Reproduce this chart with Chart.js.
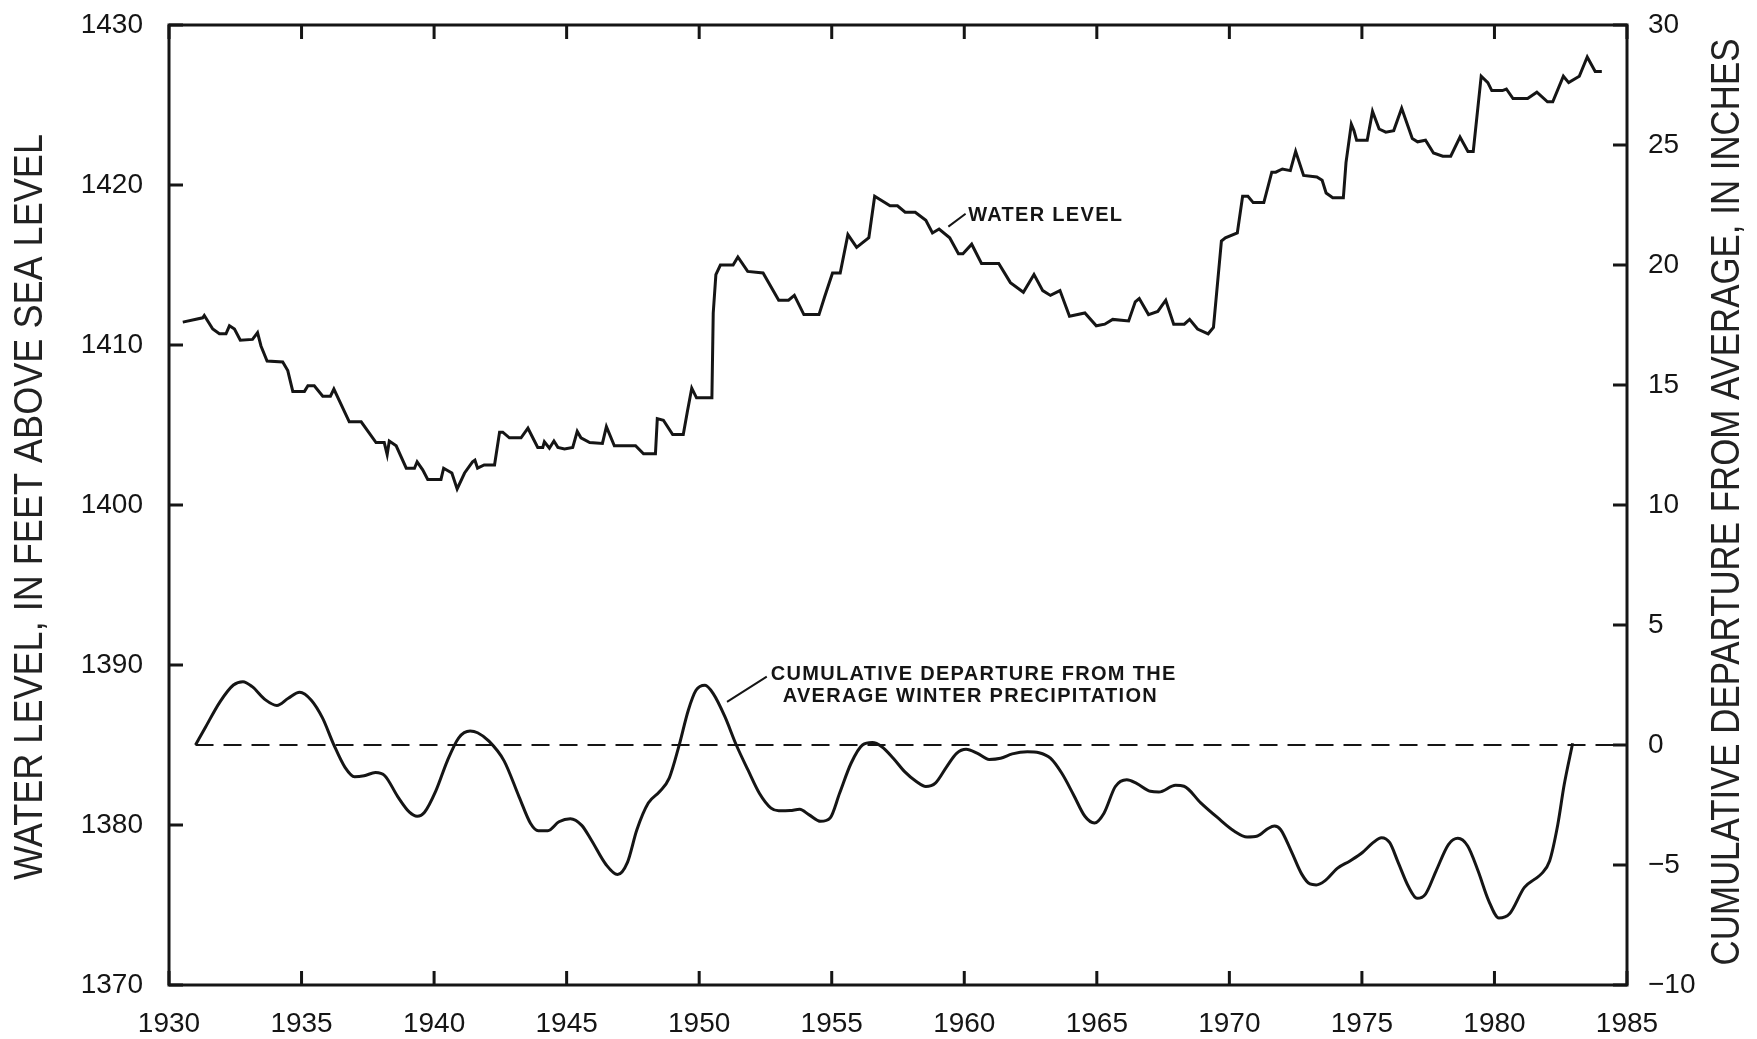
<!DOCTYPE html>
<html>
<head>
<meta charset="utf-8">
<script src="https://cdn.jsdelivr.net/npm/chart.js@4.4.1/dist/chart.umd.min.js"></script>
<style>
  html, body { margin: 0; padding: 0; background: #fff; }
  #wrap { width: 1757px; height: 1039px; }
</style>
</head>
<body>
<div id="wrap"><canvas id="chart" width="1757" height="1039"></canvas></div>
<script>
// water level, feet above sea level
const waterYears = [
  1930.52, 1931.27, 1931.33, 1931.65, 1931.90, 1932.15, 1932.28, 1932.47, 1932.69, 1933.15,
  1933.34, 1933.47, 1933.70, 1934.29, 1934.48, 1934.67, 1935.11, 1935.24, 1935.48, 1935.80,
  1936.09, 1936.22, 1936.80, 1937.25, 1937.81, 1938.12, 1938.23, 1938.31, 1938.57, 1938.95,
  1939.26, 1939.36, 1939.57, 1939.76, 1940.26, 1940.36, 1940.67, 1940.87, 1941.15, 1941.45,
  1941.54, 1941.64, 1941.89, 1942.28, 1942.47, 1942.59, 1942.84, 1943.28, 1943.54, 1943.91,
  1944.10, 1944.16, 1944.35, 1944.52, 1944.67, 1944.92, 1945.23, 1945.40, 1945.54, 1945.87,
  1946.35, 1946.50, 1946.80, 1947.60, 1947.90, 1948.35, 1948.42, 1948.65, 1949.00, 1949.40,
  1949.55, 1949.72, 1949.90, 1950.48, 1950.53, 1950.63, 1950.80, 1951.28, 1951.46, 1951.83,
  1952.41, 1953.00, 1953.37, 1953.59, 1953.95, 1954.52, 1954.73, 1955.03, 1955.32, 1955.61,
  1955.94, 1956.40, 1956.62, 1956.91, 1957.20, 1957.48, 1957.77, 1958.15, 1958.55, 1958.80,
  1959.05, 1959.45, 1959.78, 1959.95, 1960.28, 1960.65, 1961.30, 1961.74, 1962.23, 1962.63,
  1962.96, 1963.25, 1963.61, 1963.97, 1964.55, 1964.98, 1965.30, 1965.60, 1966.20, 1966.45,
  1966.60, 1966.95, 1967.30, 1967.60, 1967.90, 1968.30, 1968.50, 1968.80, 1969.20, 1969.40,
  1969.70, 1969.85, 1970.30, 1970.50, 1970.70, 1970.90, 1971.30, 1971.60, 1971.75, 1972.00,
  1972.30, 1972.50, 1972.80, 1973.30, 1973.50, 1973.65, 1973.90, 1974.30, 1974.40, 1974.60,
  1974.70, 1974.80, 1975.20, 1975.40, 1975.65, 1975.90, 1976.20, 1976.50, 1976.90, 1977.10,
  1977.40, 1977.70, 1978.05, 1978.35, 1978.70, 1979.00, 1979.20, 1979.50, 1979.75, 1979.90,
  1980.30, 1980.45, 1980.70, 1981.25, 1981.60, 1982.00, 1982.20, 1982.60, 1982.80, 1983.20,
  1983.50, 1983.80, 1984.05
];
const waterLevels = [
  1411.43, 1411.70, 1411.84, 1411.00, 1410.70, 1410.70, 1411.20, 1411.00, 1410.30, 1410.35,
  1410.77, 1409.94, 1409.00, 1408.94, 1408.40, 1407.10, 1407.10, 1407.45, 1407.45, 1406.80,
  1406.80, 1407.25, 1405.20, 1405.20, 1403.90, 1403.90, 1403.15, 1404.00, 1403.70, 1402.30,
  1402.30, 1402.70, 1402.20, 1401.60, 1401.60, 1402.30, 1402.00, 1401.00, 1402.00, 1402.70,
  1402.80, 1402.30, 1402.50, 1402.50, 1404.55, 1404.55, 1404.20, 1404.20, 1404.80, 1403.60,
  1403.60, 1403.95, 1403.55, 1404.00, 1403.60, 1403.50, 1403.60, 1404.60, 1404.20, 1403.90,
  1403.85, 1404.90, 1403.70, 1403.70, 1403.20, 1403.20, 1405.40, 1405.30, 1404.40, 1404.40,
  1405.80, 1407.30, 1406.70, 1406.70, 1412.00, 1414.40, 1415.00, 1415.00, 1415.50, 1414.60,
  1414.50, 1412.80, 1412.80, 1413.10, 1411.90, 1411.90, 1413.00, 1414.50, 1414.50, 1416.90,
  1416.10, 1416.70, 1419.30, 1419.00, 1418.70, 1418.70, 1418.30, 1418.30, 1417.80, 1417.00,
  1417.25, 1416.70, 1415.70, 1415.70, 1416.30, 1415.10, 1415.10, 1413.90, 1413.30, 1414.40,
  1413.40, 1413.10, 1413.40, 1411.80, 1412.00, 1411.20, 1411.30, 1411.60, 1411.50, 1412.70,
  1412.90, 1411.90, 1412.10, 1412.80, 1411.30, 1411.30, 1411.60, 1411.00, 1410.70, 1411.10,
  1416.50, 1416.70, 1417.00, 1419.30, 1419.30, 1418.90, 1418.90, 1420.80, 1420.80, 1421.00,
  1420.90, 1422.10, 1420.60, 1420.50, 1420.30, 1419.50, 1419.20, 1419.20, 1421.40, 1423.80,
  1423.40, 1422.80, 1422.80, 1424.60, 1423.50, 1423.30, 1423.40, 1424.80, 1422.90, 1422.70,
  1422.80, 1422.00, 1421.80, 1421.80, 1423.00, 1422.10, 1422.10, 1426.80, 1426.40, 1425.90,
  1425.90, 1426.00, 1425.40, 1425.40, 1425.80, 1425.20, 1425.20, 1426.80, 1426.40, 1426.80,
  1428.00, 1427.10, 1427.10
];

// cumulative departure from the average winter precipitation, inches
const precipYears = [
  1931.00, 1931.36, 1931.93, 1932.43, 1932.79, 1933.14, 1933.64, 1934.07, 1934.50, 1934.93,
  1935.36, 1935.79, 1936.21, 1936.64, 1937.00, 1937.36, 1937.79, 1938.14, 1938.64, 1939.07,
  1939.36, 1939.64, 1940.07, 1940.50, 1940.93, 1941.36, 1941.64, 1942.07, 1942.64, 1943.21,
  1943.64, 1943.93, 1944.29, 1944.71, 1945.14, 1945.57, 1945.93, 1946.49, 1946.92, 1947.29,
  1947.65, 1948.08, 1948.51, 1948.87, 1949.23, 1949.59, 1949.88, 1950.22, 1950.53, 1950.97,
  1951.40, 1951.84, 1952.27, 1952.71, 1953.00, 1953.43, 1953.79, 1954.15, 1954.58, 1954.94,
  1955.30, 1955.73, 1956.16, 1956.53, 1956.89, 1957.32, 1957.75, 1958.19, 1958.55, 1958.91,
  1959.34, 1959.71, 1960.07, 1960.50, 1960.94, 1961.37, 1961.81, 1962.38, 1962.82, 1963.25,
  1963.68, 1964.12, 1964.55, 1964.91, 1965.27, 1965.70, 1966.13, 1966.50, 1967.02, 1967.34,
  1967.97, 1968.29, 1968.92, 1969.56, 1970.19, 1970.67, 1971.06, 1971.46, 1971.70, 1971.93,
  1972.33, 1972.73, 1973.04, 1973.28, 1973.60, 1974.07, 1974.55, 1975.02, 1975.42, 1975.74,
  1976.05, 1976.37, 1976.77, 1977.08, 1977.40, 1977.80, 1978.27, 1978.62, 1978.99, 1979.38,
  1979.78, 1980.17, 1980.57, 1981.13, 1981.52, 1981.76, 1982.08, 1982.39, 1982.63, 1982.95
];
const precipDeparture = [
  0.00, 0.71, 1.81, 2.50, 2.64, 2.43, 1.88, 1.65, 1.95, 2.20,
  1.88, 1.13, 0.03, -0.93, -1.32, -1.28, -1.15, -1.28, -2.17, -2.80,
  -2.97, -2.80, -1.90, -0.66, 0.30, 0.58, 0.51, 0.16, -0.66, -2.17,
  -3.27, -3.57, -3.57, -3.20, -3.07, -3.35, -3.96, -4.99, -5.40, -4.90,
  -3.53, -2.42, -1.94, -1.38, -0.07, 1.45, 2.28, 2.49, 2.14, 1.18,
  0.00, -1.04, -2.01, -2.63, -2.74, -2.73, -2.68, -2.91, -3.18, -3.04,
  -2.00, -0.76, 0.00, 0.10, -0.07, -0.55, -1.11, -1.52, -1.73, -1.59,
  -0.90, -0.35, -0.18, -0.35, -0.60, -0.55, -0.37, -0.28, -0.32, -0.55,
  -1.18, -2.07, -2.97, -3.25, -2.84, -1.73, -1.45, -1.60, -1.93, -1.96,
  -1.68, -1.72, -2.41, -3.03, -3.59, -3.83, -3.79, -3.48, -3.38, -3.52,
  -4.41, -5.38, -5.79, -5.83, -5.66, -5.14, -4.83, -4.48, -4.07, -3.86,
  -4.07, -4.90, -5.93, -6.39, -6.21, -5.24, -4.14, -3.89, -4.21, -5.24,
  -6.48, -7.21, -7.03, -5.93, -5.59, -5.38, -4.83, -3.31, -1.66, 0.07
];

// zero departure reference line
const zeroYears = [1931, 1985];
const zeroValues = [0, 0];

// tick labels
const yearTicks = [1930, 1935, 1940, 1945, 1950, 1955, 1960, 1965, 1970, 1975, 1980, 1985];
const levelTicks = [1370, 1380, 1390, 1400, 1410, 1420, 1430];
const inchTicks = [-10, -5, 0, 5, 10, 15, 20, 25, 30];

const leftTitle = "WATER LEVEL, IN FEET ABOVE SEA LEVEL";
const rightTitle = "CUMULATIVE DEPARTURE FROM AVERAGE, IN INCHES";

const INK = "#151515";
const FONT = '"Liberation Sans", Arial, sans-serif';

const pairs = (xs, ys) => xs.map((x, i) => ({ x: x, y: ys[i] }));
const setTicks = list => scale => { scale.ticks = list.map(v => ({ value: v })); };
// fixed axis width, and no extra room above the plot for the top label
const fitSide = w => scale => { scale.width = w; scale.paddingTop = 0; scale.paddingBottom = 0; };

// frame with inward ticks, rotated axis titles and the two labels
const framePlugin = {
  id: "frame",
  afterDatasetsDraw(chart) {
    const { ctx, chartArea: a, scales } = chart;
    ctx.save();
    ctx.strokeStyle = INK;
    ctx.lineWidth = 3;
    ctx.strokeRect(a.left, a.top, a.right - a.left, a.bottom - a.top);

    const len = 14;
    ctx.beginPath();
    scales.x.ticks.forEach(t => {
      const px = scales.x.getPixelForValue(t.value);
      ctx.moveTo(px, a.bottom); ctx.lineTo(px, a.bottom - len);
      ctx.moveTo(px, a.top); ctx.lineTo(px, a.top + len);
    });
    scales.y.ticks.forEach(t => {
      const py = scales.y.getPixelForValue(t.value);
      ctx.moveTo(a.left, py); ctx.lineTo(a.left + len, py);
    });
    scales.y2.ticks.forEach(t => {
      const py = scales.y2.getPixelForValue(t.value);
      ctx.moveTo(a.right, py); ctx.lineTo(a.right - len, py);
    });
    ctx.stroke();

    // axis titles, both read bottom to top, slightly condensed
    ctx.fillStyle = "#222";
    ctx.font = "41px " + FONT;
    ctx.textAlign = "center";
    ctx.textBaseline = "middle";
    const midY = (a.top + a.bottom) / 2;
    [
      [a.left - 138, midY + 2, 0.88, leftTitle],
      [a.right + 101, midY - 3, 0.85, rightTitle]
    ].forEach(([tx, ty, squeeze, text]) => {
      ctx.save();
      ctx.translate(tx, ty);
      ctx.rotate(-Math.PI / 2);
      ctx.scale(squeeze, 1);
      ctx.fillText(text, 0, 0);
      ctx.restore();
    });

    // labels with leader lines
    const X = v => scales.x.getPixelForValue(v);
    const Yft = v => scales.y.getPixelForValue(v);
    const Yin = v => scales.y2.getPixelForValue(v);
    ctx.lineWidth = 2;
    ctx.beginPath();
    ctx.moveTo(X(1959.4), Yft(1417.4)); ctx.lineTo(X(1960.05), Yft(1418.2));
    ctx.moveTo(X(1951.05), Yin(1.8)); ctx.lineTo(X(1952.55), Yin(2.85));
    ctx.stroke();

    ctx.fillStyle = INK;
    ctx.font = "bold 20px " + FONT;
    ctx.letterSpacing = "1.3px";
    ctx.textAlign = "left";
    ctx.textBaseline = "alphabetic";
    ctx.fillText("WATER LEVEL", X(1960.15), Yft(1417.77));
    ctx.fillText("CUMULATIVE DEPARTURE FROM THE", X(1952.7), Yin(2.71));
    ctx.fillText("AVERAGE WINTER PRECIPITATION", X(1953.15), Yin(1.8));
    ctx.restore();
  }
};

const tickFont = { family: FONT, size: 28 };

new Chart(document.getElementById("chart"), {
  type: "line",
  data: {
    datasets: [
      {
        label: "Water level",
        data: pairs(waterYears, waterLevels),
        yAxisID: "y",
        borderColor: INK,
        borderWidth: 3,
        pointRadius: 0,
        tension: 0,
        fill: false
      },
      {
        label: "Cumulative departure",
        data: pairs(precipYears, precipDeparture),
        yAxisID: "y2",
        borderColor: INK,
        borderWidth: 3,
        pointRadius: 0,
        cubicInterpolationMode: "monotone",
        fill: false
      },
      {
        label: "Average",
        data: pairs(zeroYears, zeroValues),
        yAxisID: "y2",
        borderColor: INK,
        borderWidth: 2,
        borderDash: [18, 10],
        pointRadius: 0,
        fill: false
      }
    ]
  },
  options: {
    responsive: false,
    animation: false,
    devicePixelRatio: 1,
    layout: { padding: { top: 25, left: 0, right: 0, bottom: 0 } },
    plugins: { legend: { display: false }, tooltip: { enabled: false } },
    scales: {
      x: {
        type: "linear",
        position: "bottom",
        min: 1930,
        max: 1985,
        afterBuildTicks: setTicks(yearTicks),
        afterFit: s => { s.height = 54; },
        grid: { display: false, drawTicks: false },
        border: { display: false },
        ticks: {
          autoSkip: false, maxRotation: 0, padding: 22,
          color: INK, font: tickFont,
          callback: v => String(v)
        }
      },
      y: {
        type: "linear",
        position: "left",
        min: 1370,
        max: 1430,
        afterBuildTicks: setTicks(levelTicks),
        afterFit: fitSide(169),
        grid: { display: false, drawTicks: false },
        border: { display: false },
        ticks: { padding: 26, color: INK, font: tickFont, callback: v => String(v) }
      },
      y2: {
        type: "linear",
        position: "right",
        min: -10,
        max: 30,
        afterBuildTicks: setTicks(inchTicks),
        afterFit: fitSide(130),
        grid: { display: false, drawTicks: false },
        border: { display: false },
        ticks: {
          padding: 21, color: INK, font: tickFont,
          callback: v => (v < 0 ? "\u2212" + Math.abs(v) : String(v))
        }
      }
    }
  },
  plugins: [framePlugin]
});
</script>
</body>
</html>
